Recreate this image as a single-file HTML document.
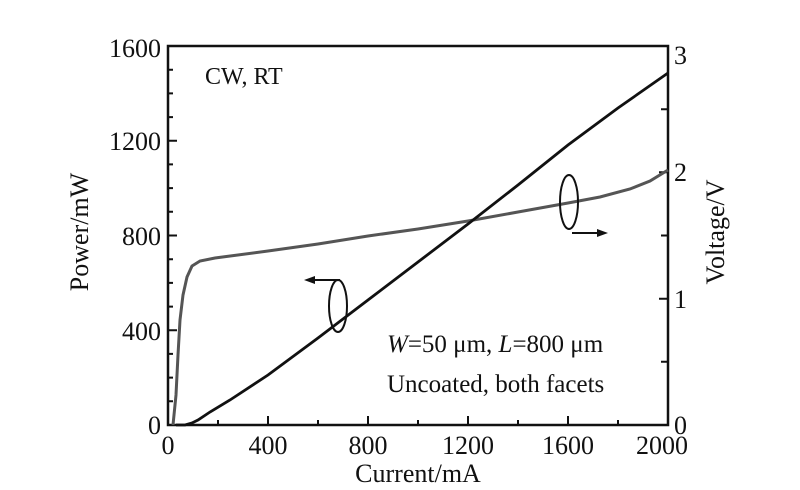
<!DOCTYPE html>
<html><head><meta charset="utf-8"><style>
html,body{margin:0;padding:0;background:#fff}
svg{display:block}
text{font-family:"Liberation Serif",serif;fill:#111}
</style></head><body>
<svg width="800" height="490" viewBox="0 0 800 490" xmlns="http://www.w3.org/2000/svg">
<g stroke="#111" stroke-width="2.5" fill="none">
<rect x="168" y="46" width="500" height="379"/>
</g>
<g stroke="#111" stroke-width="2">
<path d="M168 425h9M168 401.3h5M168 377.6h5M168 353.9h5M168 330.3h9M168 306.6h5M168 282.9h5M168 259.2h5M168 235.5h9M168 211.8h5M168 188.1h5M168 164.4h5M168 140.8h9M168 117.1h5M168 93.4h5M168 69.7h5"/>
<path d="M668 361.8h-7M668 298.7h-9M668 235.5h-7M668 172.3h-9M668 109.2h-7"/>
<path d="M218 425v-5M268 425v-9M318 425v-5M368 425v-9M418 425v-5M468 425v-9M518 425v-5M568 425v-9M618 425v-5"/>
</g>
<g font-size="26" text-anchor="end">
<text x="161" y="57">1600</text>
<text x="161" y="150">1200</text>
<text x="161" y="245">800</text>
<text x="161" y="340">400</text>
<text x="161" y="434">0</text>
</g>
<g font-size="26">
<text x="674" y="64">3</text>
<text x="674" y="181">2</text>
<text x="674" y="308">1</text>
<text x="674" y="434">0</text>
</g>
<g font-size="26" text-anchor="middle">
<text x="168" y="454">0</text>
<text x="268" y="454">400</text>
<text x="368" y="454">800</text>
<text x="468" y="454">1200</text>
<text x="568" y="454">1600</text>
<text x="662" y="454">2000</text>
<text x="418" y="482">Current/mA</text>
<text transform="translate(88,232) rotate(-90)">Power/mW</text>
<text transform="translate(724,232) rotate(-90)">Voltage/V</text>
</g>
<text x="205" y="84" font-size="24">CW, RT</text>
<text x="387" y="352" font-size="25"><tspan font-style="italic">W</tspan>=50  μm, <tspan font-style="italic">L</tspan>=800  μm</text>
<text x="387" y="392" font-size="25">Uncoated, both facets</text>
<path d="M173 425 L176 395 L178 355 L180 320 L183 295 L187 277 L192 266 L200 261 L215 258 L268 251 L318 244 L368 236 L418 229 L468 221 L518 212 L568 203 L600 197 L630 189 L650 181 L668 170" stroke="#555" stroke-width="3" fill="none"/>
<path d="M176 425 L185 425 L192 423 L198 420 L210 412 L230 400 L268 375 L318 338 L368 300 L418 262 L468 224 L518 185 L568 145 L618 108 L668 73" stroke="#111" stroke-width="2.8" fill="none"/>
<g stroke="#111" stroke-width="2" fill="none">
<ellipse cx="338" cy="306" rx="9" ry="26"/>
<path d="M340 280 L312 280"/>
<ellipse cx="569" cy="202" rx="9" ry="27"/>
<path d="M572 233 L600 233"/>
</g>
<path d="M304 280 L315 276 L315 284Z" fill="#111"/>
<path d="M608 233 L597 229 L597 237Z" fill="#111"/>
</svg>
</body></html>
